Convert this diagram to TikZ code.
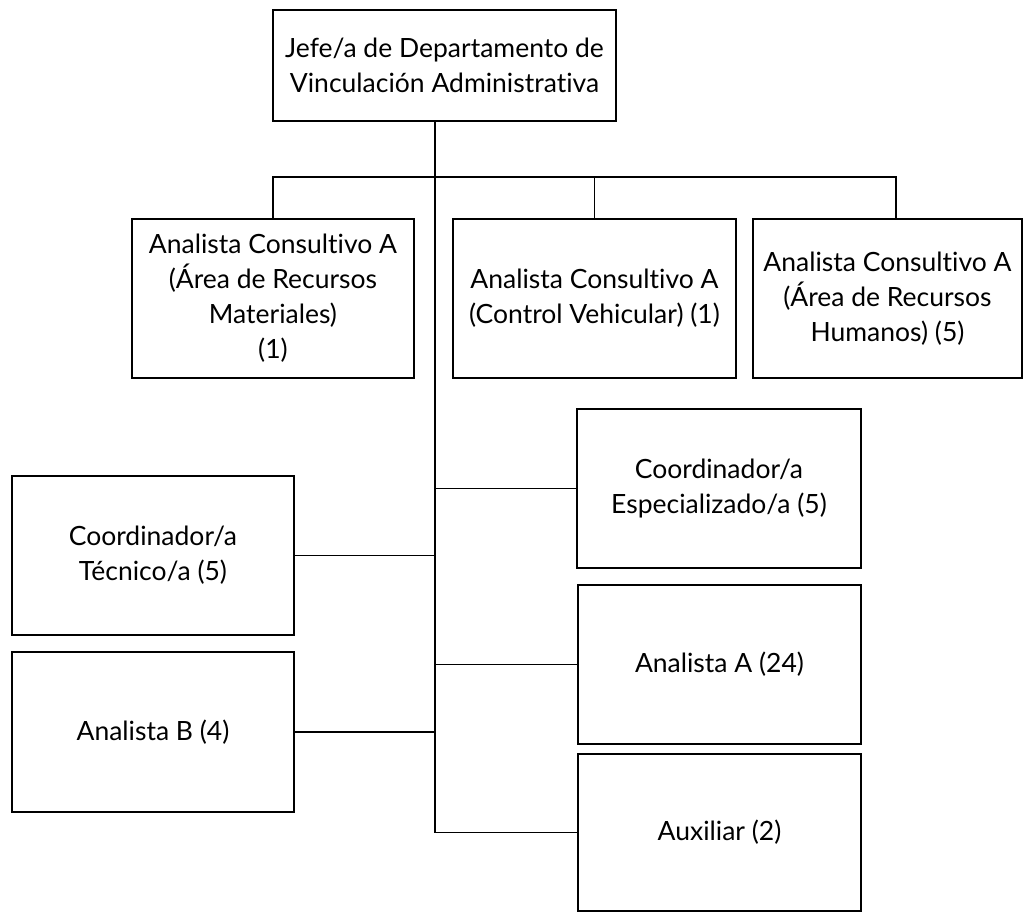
\documentclass[tikz,border=0pt]{standalone}
\usepackage{fontspec}
\setmainfont[Ligatures=NoCommon]{Lato}
\begin{document}
\begin{tikzpicture}[x=1pt,y=-1pt,
  box/.style={draw=black, line width=1.8pt, rectangle, align=center, inner sep=2pt,
    font=\fontsize{26.5}{35}\selectfont, text=black},
  conn/.style={draw=black, line width=1.8pt}]
\useasboundingbox (0,0) rectangle (1024,912);
\node[box, minimum width=343, minimum height=111] (top) at (444.5,65.5) {Jefe/a de Departamento de\\Vinculación Administrativa};
\node[box, minimum width=282, minimum height=159] (A) at (273,298.5) {Analista Consultivo A\\(Área de Recursos\\Materiales)\\(1)};
\node[box, minimum width=283, minimum height=159] (B) at (594.5,298.5) {Analista Consultivo A\\(Control Vehicular) (1)};
\node[box, minimum width=269, minimum height=159] (C) at (887.5,298.5) {Analista Consultivo A\\(Área de Recursos\\Humanos) (5)};
\node[box, minimum width=282, minimum height=159] (CT) at (153,555.5) {Coordinador/a\\Técnico/a (5)};
\node[box, minimum width=282, minimum height=160] (AB) at (153,732) {Analista B (4)};
\node[box, minimum width=284, minimum height=159] (CE) at (719,488.5) {Coordinador/a\\Especializado/a (5)};
\node[box, minimum width=283, minimum height=159] (AA) at (719.5,664.5) {Analista A (24)};
\node[box, minimum width=283, minimum height=157] (AX) at (719.5,832.5) {Auxiliar (2)};
\coordinate (s) at (435,832.5);
\coordinate (cdrop) at (896,219);
\coordinate (bar) at (435,177);
% spine
\draw[conn] (top.south -| s) -- (s);
% top bar and drops
\draw[conn] (A.north) -- (A.north |- bar) -- (cdrop |- bar) -- (cdrop);
\draw[conn] (B.north |- bar) -- (B.north);
% side connectors
\draw[conn] (CT.east) -- (CT.east -| s);
\draw[conn] (AB.east) -- (AB.east -| s);
\draw[conn] (CE.west -| s) -- (CE.west);
\draw[conn] (AA.west -| s) -- (AA.west);
\draw[conn] (AX.west -| s) -- (AX.west);
\end{tikzpicture}
\end{document}
